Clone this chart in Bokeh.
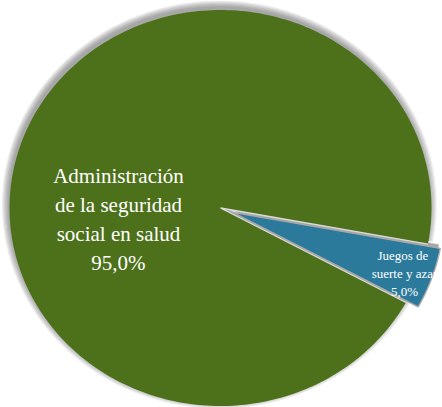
import numpy as np
from bokeh.plotting import figure
from bokeh.models import Range1d, ColumnDataSource
from bokeh.embed import file_html
from bokeh.resources import INLINE
from bokeh.core.properties import value

# ---- data ----
categories = ["Administración de la seguridad social en salud", "Juegos de suerte y azar"]
shares = [95.0, 5.0]
label_text = ["Administración\nde la seguridad\nsocial en salud", "Juegos  de\nsuerte y azar"]
pct_labels = ["95,0%", "5,0%"]
colors = ["#4D711B", "#2B7A9B"]

# ---- layout (pixel-like data space, y downward) ----
W, H = 442, 407
CX, CY = 220.0, 207.5
RX, RY = 211.0, 198.0
START_DEG = 28.5          # first slice starts here (screen angle, clockwise)
EXPLODE = [0.0, 13.0]     # explosion distance per slice
LABEL_POS = [(118.0, 219.0), (404.0, 273.0)]
LABEL_SIZE = ["21px", "13px"]

p = figure(width=W, height=H, output_backend="svg", toolbar_location=None,
           x_range=Range1d(0, W), y_range=Range1d(H, 0), min_border=0)
p.axis.visible = False
p.grid.visible = False
p.outline_line_color = None
p.background_fill_color = "white"
p.border_fill_color = "white"

total = sum(shares)
angles = np.cumsum([0] + [s / total * 360.0 for s in shares]) + START_DEG

slices = []
for i, s in enumerate(shares):
    a0, a1 = np.radians(angles[i]), np.radians(angles[i + 1])
    mid = (a0 + a1) / 2
    dx, dy = EXPLODE[i] * np.cos(mid), EXPLODE[i] * np.sin(mid)
    t = np.linspace(a0, a1, 300)
    xs = [CX + dx] + list(CX + dx + RX * np.cos(t)) + [CX + dx]
    ys = [CY + dy] + list(CY + dy + RY * np.sin(t)) + [CY + dy]
    slices.append((np.array(xs), np.array(ys)))

# soft shadow (up-left)
for xs, ys in slices:
    cx, cy = xs.mean(), ys.mean()
    for k in range(6):
        sc = 1.0 + k * 0.006
        p.patch(cx + (xs - cx) * sc - 1.5, cy + (ys - cy) * sc - 3.5,
                fill_color="#505050", fill_alpha=0.11, line_color=None)

for i, (xs, ys) in enumerate(slices):
    p.patch(xs, ys, fill_color=colors[i], line_color=None)

# light edges along the cut of the pie
gx, gy = slices[0]
p.line([gx[1], gx[0], gx[-2]], [gy[1], gy[0], gy[-2]], line_color="#DADADA", line_width=1.3)
bx, by = slices[1]
p.patch(bx, by, fill_color=None, line_color="#A8A8A8", line_width=1.4)

for i in range(len(shares)):
    src = ColumnDataSource(dict(x=[LABEL_POS[i][0]], y=[LABEL_POS[i][1]],
                                t=[label_text[i] + "\n" + pct_labels[i]]))
    p.text(x="x", y="y", text="t", source=src, text_color="white",
           text_font=value("Times New Roman"), text_font_size=LABEL_SIZE[i],
           text_align="center", text_baseline="middle", text_line_height=1.2)

open("out.html", "w").write(file_html(p, INLINE))
